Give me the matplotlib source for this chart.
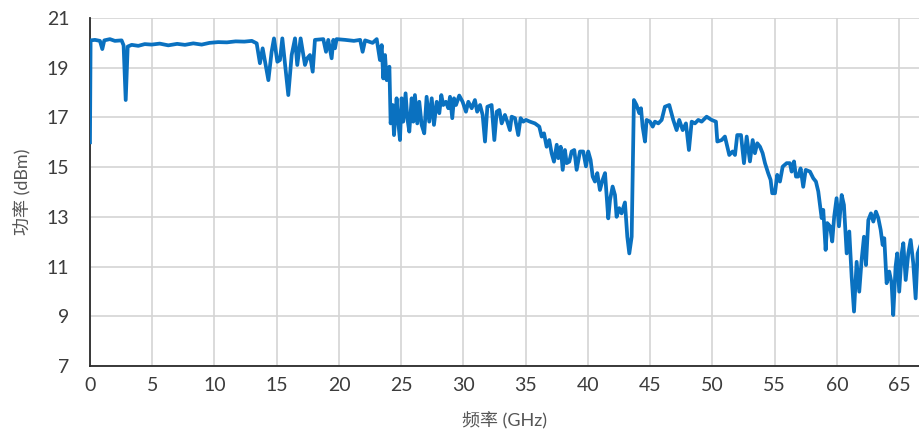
import matplotlib
matplotlib.use("Agg")
import matplotlib.pyplot as plt

plt.rcParams["font.family"] = ["Lato", "Noto Sans CJK SC", "DejaVu Sans"]

LINE_COLOR = "#0a71c0"
GRID_COLOR = "#d4d4d4"
SPINE_COLOR = "#2a2a2a"
TEXT_COLOR = "#3c3c3c"

# output power sweep
freq_ghz = [
    0.0, 0.05, 0.4, 0.8, 0.99, 1.15, 1.6, 2.0, 2.54, 2.7, 2.87, 3.03, 3.35, 3.88,
    4.4, 4.95, 5.6, 6.29, 7.0, 7.63, 8.3, 8.97, 9.6, 10.3, 11.0, 11.7, 12.4, 13.0,
    13.39, 13.65, 13.87, 14.33, 14.59, 14.78, 15.05, 15.26, 15.45, 15.93, 16.2,
    16.47, 16.65, 16.92, 17.27, 17.45, 17.67, 17.89, 18.07, 18.74, 18.96, 19.14,
    19.41, 19.55, 19.68, 19.81, 20.5, 21.2, 21.7, 21.9, 22.1, 22.4, 22.7, 23.03,
    23.29, 23.43, 23.56, 23.7, 23.83, 24.05, 24.15, 24.31, 24.42, 24.63, 24.76,
    24.9, 25.03, 25.16, 25.35, 25.49, 25.65, 25.84, 25.97, 26.1, 26.29, 26.45,
    26.64, 26.85, 27.04, 27.25, 27.45, 27.63, 27.85, 28.06, 28.22, 28.38, 28.59,
    28.78, 28.92, 29.1, 29.24, 29.4, 29.66, 29.93, 30.2, 30.39, 30.66, 30.92,
    31.1, 31.33, 31.54, 31.73, 31.92, 32.26, 32.48, 32.67, 32.88, 33.07, 33.33,
    33.52, 33.73, 33.87, 34.14, 34.4, 34.59, 34.8, 35.02, 35.34, 35.74, 36.09,
    36.28, 36.47, 36.68, 36.89, 37.08, 37.27, 37.49, 37.62, 37.81, 37.97, 38.15,
    38.29, 38.5, 38.69, 38.9, 39.09, 39.36, 39.62, 39.84, 40.02, 40.21, 40.38,
    40.56, 40.75, 40.96, 41.18, 41.37, 41.63, 41.77, 41.98, 42.17, 42.3, 42.51,
    42.7, 42.97, 43.16, 43.32, 43.51, 43.69, 43.9, 44.12, 44.26, 44.39, 44.58,
    44.71, 44.98, 45.2, 45.38, 45.65, 45.92, 46.18, 46.53, 46.85, 47.12, 47.33,
    47.61, 47.87, 48.11, 48.33, 48.59, 48.86, 49.13, 49.53, 49.93, 50.28, 50.39,
    50.74, 51.0, 51.19, 51.35, 51.62, 51.81, 51.99, 52.29, 52.53, 52.75, 53.01,
    53.23, 53.41, 53.6, 53.82, 54.03, 54.22, 54.48, 54.67, 54.8, 55.02, 55.2,
    55.42, 55.64, 55.96, 56.22, 56.36, 56.55, 56.71, 56.89, 57.08, 57.29, 57.49,
    57.83, 58.1, 58.31, 58.5, 58.69, 58.77, 58.9, 59.09, 59.22, 59.44, 59.62,
    59.78, 59.97, 60.16, 60.38, 60.56, 60.78, 60.99, 61.18, 61.37, 61.58, 61.79,
    61.98, 62.17, 62.33, 62.52, 62.73, 62.92, 63.13, 63.32, 63.51, 63.67, 63.8,
    63.99, 64.2, 64.39, 64.52, 64.71, 64.84, 65.0, 65.2, 65.33, 65.52, 65.73,
    65.92, 66.13, 66.32, 66.48, 66.67,
]
power_dbm = [
    16.0, 20.1, 20.12, 20.08, 19.75, 20.1, 20.15, 20.08, 20.1, 19.9, 17.7, 19.85,
    19.92, 19.88, 19.95, 19.93, 19.97, 19.9, 19.96, 19.92, 19.98, 19.93, 20.0,
    20.03, 20.02, 20.06, 20.05, 20.08, 19.98, 19.18, 19.78, 18.5, 19.64, 20.18,
    19.24, 19.31, 20.18, 17.9, 19.51, 20.18, 19.11, 20.18, 19.11, 19.38, 19.51,
    18.84, 20.12, 20.15, 19.64, 20.12, 19.38, 20.12, 19.78, 20.15, 20.12, 20.08,
    20.12, 19.64, 20.1, 20.05, 20.0, 20.15, 19.31, 19.91, 18.57, 19.51, 18.5,
    19.04, 16.76, 17.5, 16.29, 17.77, 16.83, 16.09, 17.77, 16.83, 17.97, 16.97,
    16.43, 17.77, 16.83, 17.9, 16.76, 17.63, 16.7, 16.36, 17.83, 16.83, 17.77,
    16.7, 17.63, 17.17, 17.9, 17.5, 17.63, 17.37, 17.83, 16.97, 17.77, 17.5,
    17.88, 17.63, 17.23, 17.63, 17.37, 17.7, 17.23, 17.5, 17.1, 16.03, 17.43,
    17.5, 16.09, 17.23, 17.3, 16.76, 17.1, 16.83, 16.49, 17.03, 16.97, 16.29,
    16.97, 16.83, 16.9, 16.83, 16.76, 16.63, 16.23, 16.36, 15.82, 16.09, 15.56,
    15.22, 15.9, 15.36, 15.82, 14.89, 15.69, 15.16, 15.22, 15.63, 15.69, 14.89,
    15.63, 15.63, 15.03, 15.63, 15.29, 14.62, 14.42, 14.76, 14.08, 14.49, 14.76,
    12.94, 13.68, 14.22, 13.88, 13.0, 13.35, 13.14, 13.58, 12.2, 11.53, 12.2,
    17.7, 17.5, 17.17, 17.37, 16.63, 16.03, 16.9, 16.83, 16.63, 16.83, 16.76,
    16.9, 17.43, 17.5, 16.9, 16.49, 16.9, 16.49, 16.76, 15.69, 16.83, 16.76,
    16.9, 16.83, 17.03, 16.9, 16.83, 16.03, 16.09, 16.23, 15.82, 15.49, 15.63,
    15.49, 16.29, 16.29, 15.16, 16.23, 15.23, 16.09, 15.56, 15.96, 15.82, 15.56,
    15.16, 14.75, 14.49, 13.95, 13.95, 14.69, 14.42, 15.02, 15.16, 15.16, 14.82,
    15.23, 14.62, 14.62, 14.95, 14.21, 14.89, 14.82, 14.55, 14.42, 14.02, 13.28,
    12.95, 13.28, 11.67, 12.75, 12.62, 12.01, 13.02, 13.75, 12.62, 13.88, 13.48,
    11.53, 12.41, 10.59, 9.19, 11.19, 9.99, 11.26, 12.2, 11.06, 12.87, 13.14,
    12.81, 13.21, 12.95, 12.48, 11.87, 12.14, 10.33, 10.8, 10.33, 9.05, 11.0,
    11.53, 9.99, 11.53, 11.94, 10.46, 11.53, 12.07, 11.13, 9.72, 11.53, 11.8,
]

x_ticks = [0, 5, 10, 15, 20, 25, 30, 35, 40, 45, 50, 55, 60, 65]
y_ticks = [7, 9, 11, 13, 15, 17, 19, 21]

fig = plt.figure(figsize=(9.2, 4.37), dpi=100)
ax = fig.add_axes([0.0978, 0.1625, 0.9022, 0.7963])

ax.plot(freq_ghz, power_dbm, color=LINE_COLOR, linewidth=2.7,
        solid_joinstyle="round", zorder=3)

ax.set_xlim(0, 66.67)
ax.set_ylim(7, 21)
ax.set_xticks(x_ticks)
ax.set_yticks(y_ticks)
ax.grid(True, color=GRID_COLOR, linewidth=1.2)
ax.set_axisbelow(True)

for side in ("top", "right"):
    ax.spines[side].set_visible(False)
for side in ("left", "bottom"):
    ax.spines[side].set_color(SPINE_COLOR)
    ax.spines[side].set_linewidth(1.3)

ax.tick_params(axis="both", length=0, labelsize=14, labelcolor=TEXT_COLOR)
ax.tick_params(axis="y", pad=15)
ax.tick_params(axis="x", pad=8)

ax.set_ylabel("功率 (dBm)", fontsize=13, color="#555555", labelpad=11)
ax.set_xlabel("频率 (GHz)", fontsize=13, color="#555555", labelpad=13)

fig.savefig("out.png", dpi=100)
